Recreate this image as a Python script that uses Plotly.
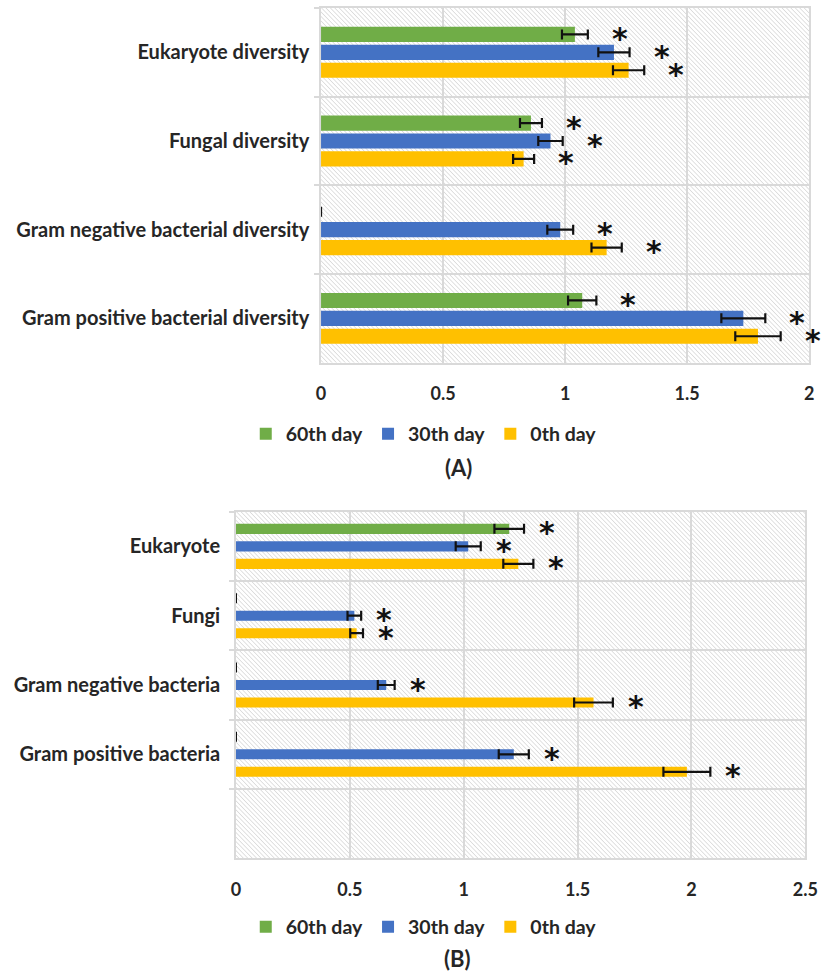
import base64
import plotly.graph_objects as go

# ---------------- data ----------------
series_names = ["60th day", "30th day", "0th day"]
series_colors = ["#70AD47", "#4472C4", "#FFC000"]

# Panel (A): diversity indices
cats_a = ["Eukaryote diversity", "Fungal diversity",
          "Gram negative bacterial diversity", "Gram positive bacterial diversity"]
a_day60 = [1.04, 0.86, 0.0, 1.07]
a_day60_err = [0.053, 0.045, 0.0, 0.058]
a_day30 = [1.20, 0.94, 0.98, 1.73]
a_day30_err = [0.064, 0.050, 0.053, 0.090]
a_day0 = [1.26, 0.83, 1.17, 1.79]
a_day0_err = [0.064, 0.043, 0.062, 0.093]

# Panel (B): abundance indices (last axis slot is left empty)
cats_b = ["Eukaryote", "Fungi", "Gram negative bacteria", "Gram positive bacteria", " "]
b_day60 = [1.20, 0.0, 0.0, 0.0]
b_day60_err = [0.065, 0.0, 0.0, 0.0]
b_day30 = [1.02, 0.52, 0.66, 1.22]
b_day30_err = [0.055, 0.030, 0.037, 0.066]
b_day0 = [1.24, 0.53, 1.57, 1.98]
b_day0_err = [0.066, 0.028, 0.085, 0.103]

x_ticks_a = [0, 0.5, 1, 1.5, 2]
x_ticks_b = [0, 0.5, 1, 1.5, 2, 2.5]

# ---------------- styling ----------------
TEXT = "#262626"
GRID = "#d9d9d9"
FONT = "Lato"
W, H = 833, 972

dom_a_x = [323 / W, 822 / W]
dom_a_y = [1 - 362.7 / H, 1 - 8 / H]
dom_b_x = [236 / W, 818 / W]
dom_b_y = [1 - 858.3 / H, 1 - 511.7 / H]


def hatch_uri(w, h):
    svg = (
        f'<svg xmlns="http://www.w3.org/2000/svg" width="{w}" height="{h}" '
        f'viewBox="0 0 {w} {h}" preserveAspectRatio="none">'
        '<defs><pattern id="p" width="3.2" height="3.2" patternUnits="userSpaceOnUse" '
        'patternTransform="rotate(-45)">'
        '<line x1="0" y1="0" x2="0" y2="3.2" stroke="#c4c4c4" stroke-width="1"/>'
        '</pattern></defs>'
        '<rect width="100%" height="100%" fill="#ffffff"/>'
        '<rect width="100%" height="100%" fill="url(#p)"/></svg>'
    )
    return "data:image/svg+xml;base64," + base64.b64encode(svg.encode()).decode()


fig = go.Figure()

panels = [
    dict(cats=cats_a, xa="x", ya="y", legend="legend",
         vals=[a_day60, a_day30, a_day0], errs=[a_day60_err, a_day30_err, a_day0_err],
         slot=0.2018, bar=0.171, px_w=822 - 323, px_h=362.7 - 8, star_dx=32),
    dict(cats=cats_b, xa="x2", ya="y2", legend="legend2",
         vals=[b_day60, b_day30, b_day0], errs=[b_day60_err, b_day30_err, b_day0_err],
         slot=0.2525, bar=0.145, px_w=818 - 236, px_h=858.3 - 511.7, star_dx=23),
]

annotations = []
for p in panels:
    n = len(p["vals"][0])
    for j, (name, color) in enumerate(zip(series_names, series_colors)):
        center = (j - 1) * p["slot"]
        fig.add_trace(go.Bar(
            y=p["cats"][:n], x=p["vals"][j], orientation="h",
            name=name, marker=dict(color=color, line=dict(width=0)),
            width=p["bar"], offset=center - p["bar"] / 2,
            error_x=dict(type="data", array=p["errs"][j], color="#111111",
                         thickness=2.2, width=5),
            xaxis=p["xa"], yaxis=p["ya"], legend=p["legend"],
        ))
        # significance marks beyond each error bar
        for i, (v, e) in enumerate(zip(p["vals"][j], p["errs"][j])):
            if v > 0:
                annotations.append(dict(
                    x=v + e, y=i + center, xref=p["xa"], yref=p["ya"],
                    text="*", showarrow=False, xanchor="center", yanchor="middle",
                    xshift=p["star_dx"], yshift=-4,
                    font=dict(family="DejaVu Sans", size=30, color="#111111",
                              weight="bold"),
                ))

annotations.append(dict(x=464 / W, y=1 - 467 / H, xref="paper", yref="paper",
                        text="(A)", showarrow=False, xanchor="center", yanchor="middle",
                        font=dict(family=FONT, size=22, color=TEXT, weight="bold")))
annotations.append(dict(x=462 / W, y=1 - 958 / H, xref="paper", yref="paper",
                        text="(B)", showarrow=False, xanchor="center", yanchor="middle",
                        font=dict(family=FONT, size=22, color=TEXT, weight="bold")))

axis_font = dict(family=FONT, size=18, color=TEXT, weight="bold")
label_font = dict(family=FONT, size=20, color=TEXT, weight="bold")


def xaxis(domain, ticks, anchor):
    return dict(domain=domain, anchor=anchor, range=[ticks[0], ticks[-1]],
                tickvals=ticks, showgrid=True, gridcolor=GRID, gridwidth=1.5,
                zeroline=False, showline=True, mirror=True, linecolor=GRID,
                linewidth=1.5, ticks="outside", ticklen=14,
                tickcolor="rgba(0,0,0,0)", tickfont=axis_font, fixedrange=True)


def yaxis(domain, cats, anchor, standoff):
    return dict(domain=domain, anchor=anchor, type="category",
                categoryorder="array", categoryarray=cats,
                range=[len(cats) - 0.5, -0.5], tickson="boundaries",
                ticks="outside", ticklen=5, tickcolor=GRID, tickwidth=1.5,
                showgrid=True, gridcolor=GRID, gridwidth=1.5,
                showline=True, mirror=True, linecolor=GRID, linewidth=1.5,
                tickfont=label_font, ticklabelstandoff=standoff, fixedrange=True)


legend_style = dict(orientation="h", xanchor="center", yanchor="middle",
                    font=dict(family=FONT, size=19.5, color=TEXT, weight="bold"),
                    traceorder="normal", itemwidth=30, bgcolor="rgba(0,0,0,0)",
                    itemclick=False, itemdoubleclick=False)

fig.update_layout(
    width=W, height=H,
    margin=dict(l=0, r=0, t=0, b=0),
    paper_bgcolor="white", plot_bgcolor="white",
    barmode="overlay",
    showlegend=True,
    xaxis=xaxis(dom_a_x, x_ticks_a, "y"),
    yaxis=yaxis(dom_a_y, cats_a, "x", 6),
    xaxis2=xaxis(dom_b_x, x_ticks_b, "y2"),
    yaxis2=yaxis(dom_b_y, cats_b, "x2", 10),
    legend=dict(legend_style, x=428 / W, y=1 - 434 / H),
    legend2=dict(legend_style, x=428 / W, y=1 - 927 / H),
    annotations=annotations,
    images=[
        dict(source=hatch_uri(panels[0]["px_w"], panels[0]["px_h"]),
             xref="x domain", yref="y domain", x=0, y=1, sizex=1, sizey=1,
             xanchor="left", yanchor="top", sizing="stretch", layer="below"),
        dict(source=hatch_uri(panels[1]["px_w"], panels[1]["px_h"]),
             xref="x2 domain", yref="y2 domain", x=0, y=1, sizex=1, sizey=1,
             xanchor="left", yanchor="top", sizing="stretch", layer="below"),
    ],
)

fig.write_html("out.html")
